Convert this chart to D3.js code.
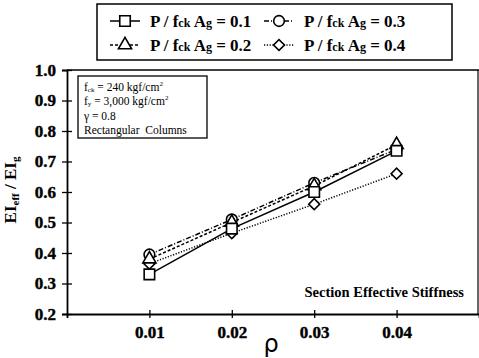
<!DOCTYPE html>
<html>
<head>
<meta charset="utf-8">
<script src="https://cdn.jsdelivr.net/npm/d3@7"></script>
<style>
  html, body { margin: 0; padding: 0; background: #fff; }
  svg { display: block; }
  text { font-family: "Liberation Serif", "DejaVu Serif", serif; fill: #000; }
</style>
</head>
<body>
<svg id="chart" width="479" height="358"></svg>
<script>
// rho values (x) and EIeff/EIg per axial load ratio
const rho = [0.01, 0.02, 0.03, 0.04];
const ratios = ['0.1', '0.2', '0.3', '0.4'];
const s01 = [0.33, 0.48, 0.60, 0.735];
const s02 = [0.38, 0.50, 0.62, 0.755];
const s03 = [0.395, 0.51, 0.63, 0.74];
const s04 = [0.365, 0.465, 0.56, 0.66];
const xTicks = [0.01, 0.02, 0.03, 0.04];
const yTicks = [0.2, 0.3, 0.4, 0.5, 0.6, 0.7, 0.8, 0.9, 1.0];

const series = [
  { key: ratios[0], values: s01, symbol: 'square', dash: null },
  { key: ratios[1], values: s02, symbol: 'triangle', dash: '3,2' },
  { key: ratios[2], values: s03, symbol: 'circle', dash: '5,2,1,2' },
  { key: ratios[3], values: s04, symbol: 'diamond', dash: '1.2,1.6' }
];

const svg = d3.select('#chart');
const x = d3.scaleLinear().domain([0, 0.05]).range([67, 479]);
const y = d3.scaleLinear().domain([0.2, 1.0]).range([314, 70]);

// frame
svg.append('line').attr('x1', 67).attr('x2', 479).attr('y1', 70).attr('y2', 70)
  .attr('stroke', '#000').attr('stroke-width', 1.5);
svg.append('line').attr('x1', 478).attr('x2', 478).attr('y1', 70).attr('y2', 314)
  .attr('stroke', '#000').attr('stroke-width', 1.2);

// axes: ticks crossing the line
const yAxis = svg.append('g').attr('transform', 'translate(67,0)')
  .call(d3.axisLeft(y).tickValues(yTicks).tickFormat(d3.format('.1f')).tickSize(5).tickPadding(4));
yAxis.selectAll('.tick line').attr('x2', 5).attr('x1', -5);
const xAxis = svg.append('g').attr('transform', 'translate(0,314)')
  .call(d3.axisBottom(x).tickValues(xTicks).tickFormat(d3.format('.2f')).tickSize(4).tickPadding(8));
xAxis.selectAll('.tick line').attr('y1', -4).attr('y2', 4);
svg.selectAll('.domain').attr('stroke', '#000').attr('stroke-width', 1.8);
svg.selectAll('.tick line').attr('stroke', '#000').attr('stroke-width', 1.3);
svg.selectAll('.tick text')
  .style('font-family', '"Liberation Serif", serif')
  .style('font-weight', 'bold').style('font-size', '17px').style('fill', '#000')
  .style('stroke', '#000').style('stroke-width', '0.4px');
yAxis.selectAll('.tick text').attr('dx', -2);

// symbols
const symbolGen = {
  square: d3.symbol().type(d3.symbolSquare).size(110),
  triangle: d3.symbol().type(d3.symbolTriangle).size(75),
  circle: d3.symbol().type(d3.symbolCircle).size(90),
  diamond: d3.symbol().type(d3.symbolSquare).size(60)
};
function drawSymbol(g, type, cx, cy) {
  const p = g.append('path').attr('d', symbolGen[type]())
    .attr('fill', '#fff').attr('stroke', '#000').attr('stroke-width', 1.6);
  if (type === 'diamond') p.attr('transform', `translate(${cx},${cy}) rotate(45)`);
  else p.attr('transform', `translate(${cx},${cy})`);
}

const line = d3.line().x((d, i) => x(rho[i])).y(d => y(d));
const plot = svg.append('g');
series.forEach(s => {
  plot.append('path').datum(s.values).attr('d', line)
    .attr('fill', 'none').attr('stroke', '#000').attr('stroke-width', 1.5)
    .attr('stroke-dasharray', s.dash);
});
series.slice().reverse().forEach(s => {
  s.values.forEach((v, i) => drawSymbol(plot, s.symbol, x(rho[i]), y(v)));
});

// legend
const lg = svg.append('g');
lg.append('rect').attr('x', 97).attr('y', 4).attr('width', 355).attr('height', 56)
  .attr('fill', '#fff').attr('stroke', '#000').attr('stroke-width', 1.5);
const legPos = [[110, 21], [110, 45], [264, 21], [264, 45]];
series.forEach((s, i) => {
  const [lx, ly] = legPos[i];
  lg.append('line').attr('x1', lx).attr('x2', lx + 30).attr('y1', ly).attr('y2', ly)
    .attr('stroke', '#000').attr('stroke-width', 1.5).attr('stroke-dasharray', s.dash);
  drawSymbol(lg, s.symbol, lx + 15, ly);
  const t = lg.append('text').attr('x', lx + 40).attr('y', ly + 6)
    .style('font-weight', 'bold').style('font-size', '17px');
  t.append('tspan').text('P / f');
  t.append('tspan').style('font-size', '12px').text('ck');
  t.append('tspan').text(' A');
  t.append('tspan').style('font-size', '12px').text('g');
  t.append('tspan').text(' = ' + s.key);
});

// annotation box
const ann = svg.append('g');
ann.append('rect').attr('x', 78).attr('y', 76).attr('width', 129).attr('height', 62)
  .attr('fill', '#fff').attr('stroke', '#000').attr('stroke-width', 1.3);
const annLines = [
  ['f', 'ck', ' = 240 kgf/cm', '2'],
  ['f', 'y', ' = 3,000 kgf/cm', '2'],
  ['γ = 0.8', '', '', ''],
  ['Rectangular  Columns', '', '', '']
];
annLines.forEach((l, i) => {
  const t = ann.append('text').attr('x', 84).attr('y', 91 + i * 14.3)
    .style('font-size', '11.5px').attr('xml:space', 'preserve');
  t.append('tspan').text(l[0]);
  if (l[1]) t.append('tspan').style('font-size', '7px').attr('dy', 1).text(l[1]);
  if (l[2]) t.append('tspan').attr('dy', -1).text(l[2]);
  if (l[3]) t.append('tspan').style('font-size', '7px').attr('dy', -5).text(l[3]);
});

// chart caption
svg.append('text').attr('x', 464).attr('y', 297).attr('text-anchor', 'end')
  .style('font-weight', 'bold').style('font-size', '14.5px').text('Section Effective Stiffness');

// axis titles
svg.append('text').attr('x', 271).attr('y', 352).attr('text-anchor', 'middle')
  .style('font-family', '"DejaVu Sans", sans-serif').style('font-size', '24px').text('ρ');
const yl = svg.append('text').attr('transform', 'translate(16,190) rotate(-90)')
  .attr('text-anchor', 'middle').style('font-weight', 'bold').style('font-size', '17px');
yl.append('tspan').text('EI');
yl.append('tspan').style('font-size', '11px').attr('dy', 3).text('eff');
yl.append('tspan').attr('dy', -3).text(' / EI');
yl.append('tspan').style('font-size', '11px').attr('dy', 3).text('g');
</script>
</body>
</html>
